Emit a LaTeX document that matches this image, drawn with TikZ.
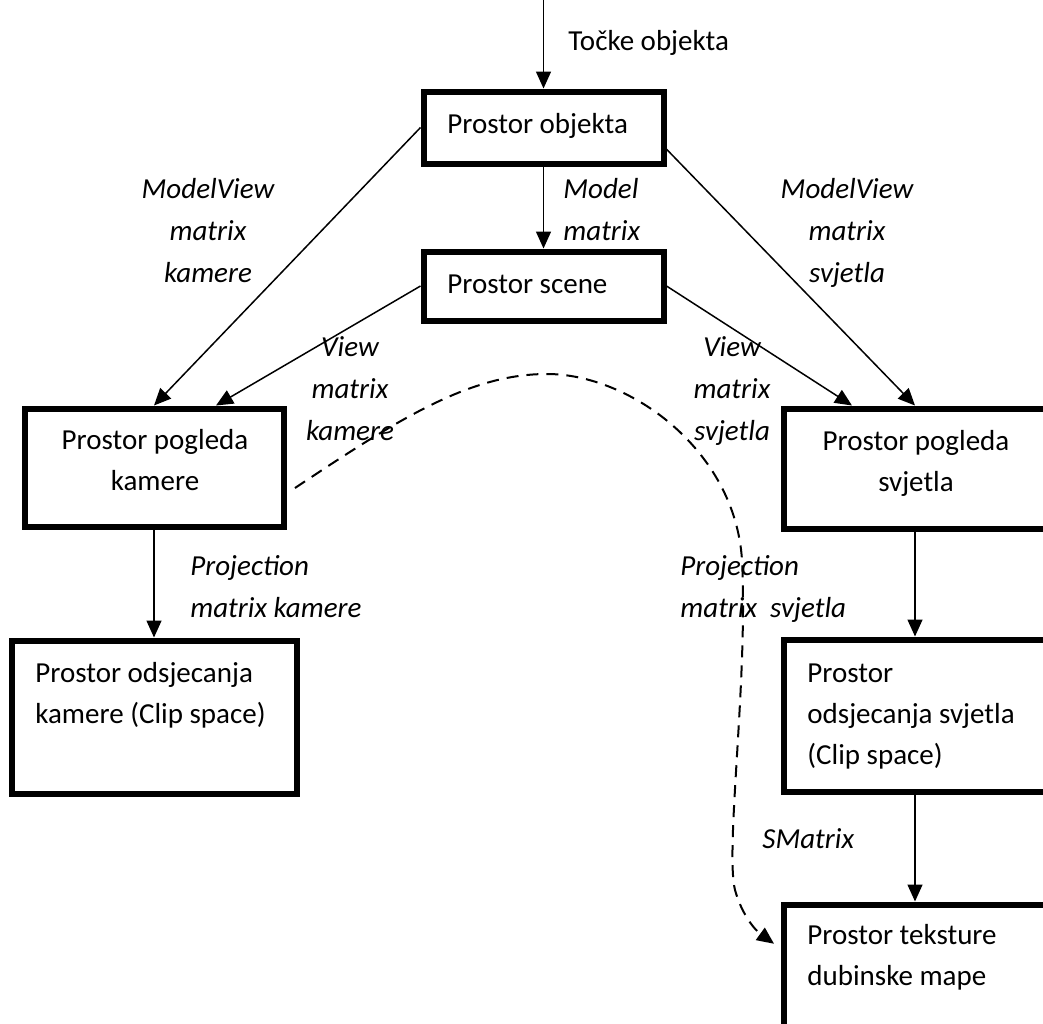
\documentclass[tikz,border=0pt]{standalone}
\usepackage{fontspec}
\setmainfont{Carlito}
\usetikzlibrary{arrows.meta,calc,positioning}

\begin{document}
\begin{tikzpicture}[x=0.5pt,y=-0.5pt,text=black,
	prostor/.style={draw=black,line width=3pt,inner sep=0pt},
	tekst/.style={inner sep=0pt,anchor=base,align=center,font=\fontsize{14.5}{20.5}\selectfont},
	oznaka/.style={inner sep=0pt,anchor=base,align=center,font=\fontsize{14.5}{21}\selectfont\itshape},
	veza/.style={line width=0.75pt,-{Triangle[length=8.5pt,width=7.5pt]}}]

	\useasboundingbox (0,0) rectangle (1043,1023);

	% prostori
	\node[prostor,minimum width=120pt,minimum height=36pt] (objekt) at (543.5,127.5) {};
	\node[prostor,minimum width=120pt,minimum height=34.5pt] (scena) at (543.5,286) {};
	\node[prostor,minimum width=129.5pt,minimum height=59pt] (kampogled) at (154,467.5) {};
	\node[prostor,minimum width=131.5pt,minimum height=60pt] (svjpogled) at (915,468.5) {};
	\node[prostor,minimum width=142.5pt,minimum height=76.5pt] (kamclip) at (154,717) {};
	\node[prostor,minimum width=131.5pt,minimum height=76pt] (svjclip) at (915,715.5) {};
	\node[prostor,minimum width=131.5pt,minimum height=75pt] (dubina) at (915,979.5) {};

	% tekst (anchor base = zadnji redak)
	\node[tekst,anchor=base west] (tocke) at (568,50) {Točke objekta};
	\node[tekst,anchor=base west] (objekt-t) at (447,133) {Prostor objekta};
	\node[tekst,anchor=base west] (scena-t) at (447,293) {Prostor scene};
	\node[tekst] (kampogled-t) at (155,490) {Prostor pogleda\\kamere};
	\node[tekst] (svjpogled-t) at (916,491) {Prostor pogleda\\svjetla};
	\node[tekst,anchor=base west,align=left] (kamclip-t) at (35,723) {Prostor odsjecanja\\kamere (Clip space)};
	\node[tekst,anchor=base west,align=left] (svjclip-t) at (807,764) {Prostor\\odsjecanja svjetla\\(Clip space)};
	\node[tekst,anchor=base west,align=left] (dubina-t) at (807,985) {Prostor teksture\\dubinske mape};

	% veze
	\coordinate (ulaz) at (543.5,0);
	\draw[veza] (ulaz) -- (objekt.north);
	\draw[veza] (objekt.south) -- (scena.north);
	\draw[veza] (objekt.west) -- (kampogled.north);
	\draw[veza] (objekt.-10) -- (svjpogled.north);
	\draw[veza] (scena.west) -- (kampogled.45);
	\draw[veza] (scena.east) -- (svjpogled.135);
	\draw[veza] (kampogled.south) -- (kamclip.north);
	\draw[veza] (svjpogled.south) -- (svjclip.north);
	\draw[veza] (svjclip.south) -- (dubina.north);

	\coordinate (d0) at (295,488);
	\draw[veza,line width=1pt,dash pattern=on 6pt off 4pt,shorten >=4pt] (d0) .. controls (400,418) and (470,374) .. (547,374)
		.. controls (630,374) and (735,450) .. (742,560)
		.. controls (748,680) and (725,850) .. (735,890)
		.. controls (742,915) and (755,930) .. (dubina.167);

	% oznake
	\node[oznaka] (mv-kam) at (208,282) {ModelView\\matrix\\kamere};
	\node[oznaka] (mv-svj) at (847,282) {ModelView\\matrix\\svjetla};
	\node[oznaka,anchor=base west,align=left] (model) at (563,240) {Model\\matrix};
	\node[oznaka] (v-kam) at (350,440) {View\\matrix\\kamere};
	\node[oznaka] (v-svj) at (732,440) {View\\matrix\\svjetla};
	\node[oznaka,anchor=base west,align=left] (p-kam) at (190,617) {Projection\\matrix kamere};
	\node[oznaka,anchor=base west,align=left] (p-svj) at (680,617) {Projection\\matrix~~svjetla};
	\node[oznaka,anchor=base west] (smatrix) at (762,848) {SMatrix};
\end{tikzpicture}
\end{document}
